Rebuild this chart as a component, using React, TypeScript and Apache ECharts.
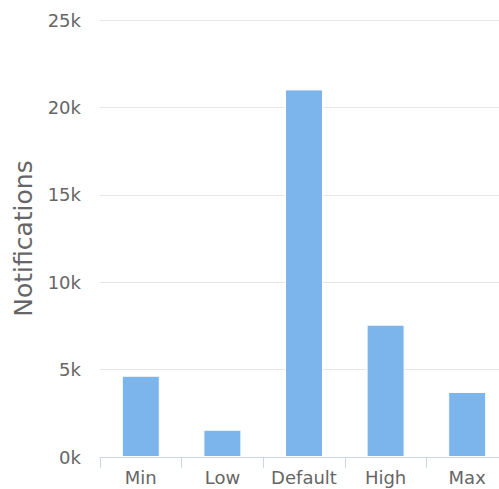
import React, { useEffect, useRef } from "react";
import * as echarts from "echarts";

const categories = ["Min", "Low", "Default", "High", "Max"];
const notifications = [4650, 1560, 21030, 7570, 3720];
const yTicks = [0, 5000, 10000, 15000, 20000, 25000];

export default function App() {
  const ref = useRef<HTMLDivElement>(null);
  useEffect(() => {
    document.body.style.margin = "0";
    document.body.style.overflow = "hidden";
    const chart = echarts.init(ref.current!, undefined, { renderer: "svg" });
    chart.setOption({
      animation: false,
      textStyle: { fontFamily: "DejaVu Sans" },
      grid: {
        left: 100,
        right: 12,
        top: 20,
        bottom: 32,
        containLabel: false,
        outerBoundsMode: "none",
      },
      xAxis: {
        type: "category",
        data: categories,
        axisLine: { lineStyle: { color: "#ccd6eb", width: 1 } },
        axisTick: { show: true, length: 11, lineStyle: { color: "#ccd6eb" } },
        axisLabel: {
          color: "#666666",
          fontSize: 18,
          margin: 11,
          interval: 0,
          fontFamily: "DejaVu Sans",
        },
      },
      yAxis: {
        type: "value",
        min: yTicks[0],
        max: yTicks[yTicks.length - 1],
        interval: 5000,
        name: "Notifications",
        nameLocation: "middle",
        nameGap: 64,
        nameTextStyle: { color: "#666666", fontSize: 25, fontFamily: "DejaVu Sans" },
        axisLine: { show: false },
        axisTick: { show: false },
        splitLine: { lineStyle: { color: "#e6e6e6", width: 1 } },
        axisLabel: {
          color: "#666666",
          fontSize: 18,
          margin: 19,
          fontFamily: "DejaVu Sans",
          formatter: (v: number) => `${v / 1000}k`,
        },
      },
      series: [
        {
          type: "bar",
          data: notifications,
          barWidth: 38,
          itemStyle: { color: "#7cb5ec", borderColor: "#ffffff", borderWidth: 1 },
        },
      ],
    });
    return () => chart.dispose();
  }, []);
  return (
    <div
      ref={ref}
      style={{ position: "absolute", left: 0, top: 0, width: 520, height: 489 }}
    />
  );
}
